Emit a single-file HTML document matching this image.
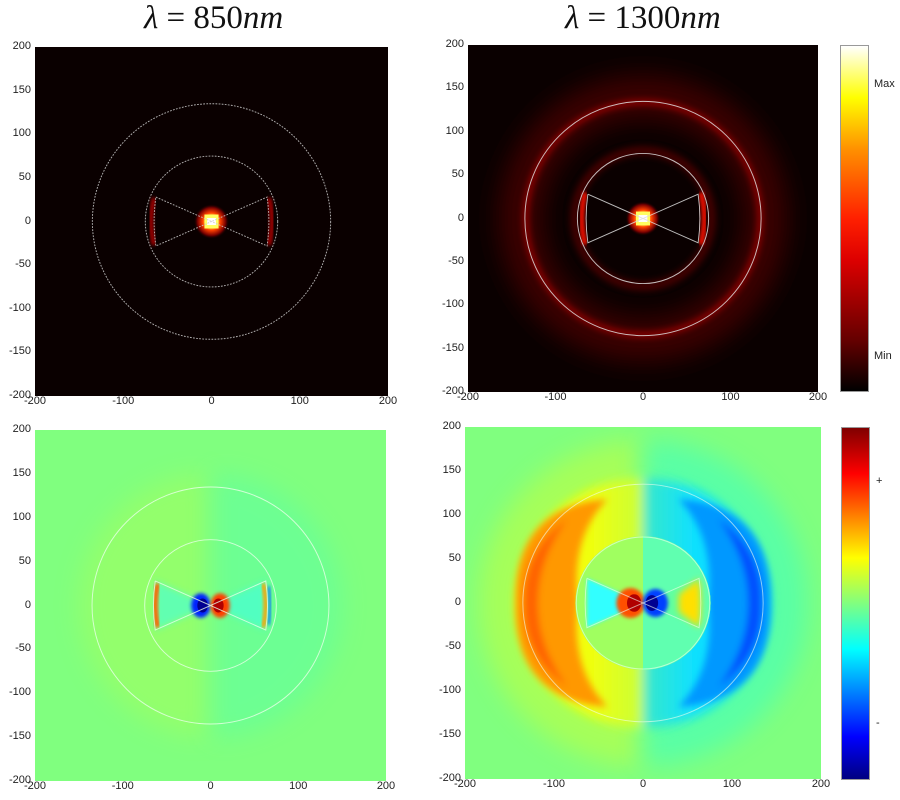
<!DOCTYPE html>
<html><head><meta charset="utf-8"><style>
body{margin:0;width:900px;height:800px;background:#fff;position:relative;overflow:hidden;font-family:"Liberation Sans",sans-serif}
.t{position:absolute;font-family:"Liberation Serif",serif;font-size:33px;color:#111;white-space:nowrap}
.t i{font-style:italic}
svg.p{position:absolute}
.l{position:absolute;font-size:11px;color:#222}
</style></head><body>
<div class="t" style="left:144px;top:0px"><i>λ</i> = 850<i>nm</i></div>
<div class="t" style="left:565px;top:0px"><i>λ</i> = 1300<i>nm</i></div>

<svg width="0" height="0" style="position:absolute"><defs>
<filter id="b2" x="-50%" y="-50%" width="200%" height="200%"><feGaussianBlur stdDeviation="2"/></filter>
<filter id="b4" x="-50%" y="-50%" width="200%" height="200%"><feGaussianBlur stdDeviation="4"/></filter>
<filter id="b6" x="-50%" y="-50%" width="200%" height="200%"><feGaussianBlur stdDeviation="6"/></filter>
<filter id="b14" x="-50%" y="-50%" width="200%" height="200%"><feGaussianBlur stdDeviation="14"/></filter>
<radialGradient id="hot"><stop offset="0" stop-color="#fff"/><stop offset=".25" stop-color="#ffff40"/><stop offset=".5" stop-color="#ff4000"/><stop offset=".8" stop-color="#700"/><stop offset="1" stop-color="#100" stop-opacity="0"/></radialGradient>
<linearGradient id="yl" x1="0" y1="0" x2="1" y2="0"><stop offset="0" stop-color="#ffff00"/><stop offset=".6" stop-color="#f0ff10"/><stop offset="1" stop-color="#c8ff38"/></linearGradient>
<linearGradient id="cl" x1="0" y1="0" x2="1" y2="0"><stop offset="0" stop-color="#38e8c8"/><stop offset=".4" stop-color="#10e0ff"/><stop offset="1" stop-color="#00d8ff"/></linearGradient>
</defs></svg>

<!-- top-left -->
<svg class="p" style="left:35px;top:47px" width="353" height="349" viewBox="-200 -200 400 400" preserveAspectRatio="none">
<rect x="-200" y="-200" width="400" height="400" fill="#0a0000"/>
<path d="M-65,-27 Q-72,0 -65,27" stroke="#a00" stroke-width="5" fill="none" filter="url(#b2)"/>
<path d="M65,-27 Q72,0 65,27" stroke="#a00" stroke-width="5" fill="none" filter="url(#b2)"/>
<circle r="20" fill="url(#hot)"/>
<rect x="-8" y="-8" width="16" height="16" fill="#ffff60"/>
<rect x="-5" y="-4" width="10" height="8" fill="#fff"/>
<g fill="none" stroke="#ccc" stroke-width="1.1" stroke-dasharray="2 1.5" opacity=".85">
<circle r="135"/><circle r="75"/>
<path d="M-63,-28 L0,0 L63,-28 Q67,0 63,28 L0,0 L-63,28 Q-67,0 -63,-28"/>
</g></svg>

<!-- top-right -->
<svg class="p" style="left:468px;top:45px" width="350" height="347" viewBox="-200 -200 400 400" preserveAspectRatio="none">
<rect x="-200" y="-200" width="400" height="400" fill="#0a0000"/>
<circle r="140" stroke="#3a0000" stroke-width="50" fill="none" filter="url(#b14)"/>
<circle r="134" stroke="#900" stroke-width="6" fill="none" filter="url(#b4)"/>
<circle r="78" stroke="#400" stroke-width="10" fill="none" filter="url(#b4)"/>
<path d="M-66,-30 Q-74,0 -66,30" stroke="#e10" stroke-width="6" fill="none" filter="url(#b2)"/>
<path d="M66,-30 Q74,0 66,30" stroke="#e10" stroke-width="6" fill="none" filter="url(#b2)"/>
<circle r="20" fill="url(#hot)"/>
<rect x="-8" y="-8" width="16" height="16" fill="#ffff60"/>
<rect x="-5" y="-4" width="10" height="8" fill="#fff"/>
<g fill="none" stroke="#ddd" stroke-width="1.1" opacity=".85">
<circle r="135"/><circle r="75"/>
<path d="M-63,-28 L0,0 L63,-28 Q67,0 63,28 L0,0 L-63,28 Q-67,0 -63,-28"/>
</g></svg>

<!-- bottom-left -->
<svg class="p" style="left:35px;top:430px" width="351" height="351" viewBox="-200 -200 400 400" preserveAspectRatio="none">
<rect x="-200" y="-200" width="400" height="400" fill="#80ff7f"/>
<path d="M0,-150 A150,150 0 0 0 0,150 Z" fill="#b8ff48" opacity=".35" filter="url(#b14)"/>
<path d="M0,-150 A150,150 0 0 1 0,150 Z" fill="#48ffb8" opacity=".35" filter="url(#b14)"/>
<path d="M-63,-28 L0,0 L-63,28 Z" fill="#40ffe0" opacity=".6" filter="url(#b4)"/>
<path d="M63,-28 L0,0 L63,28 Z" fill="#40ffe0" opacity=".6" filter="url(#b4)"/>
<path d="M-60,-25 Q-66,0 -60,25" stroke="#ff6000" stroke-width="6" fill="none" filter="url(#b2)"/>
<path d="M60,-25 Q66,0 60,25" stroke="#ffa000" stroke-width="5" fill="none" filter="url(#b2)"/>
<path d="M66,-22 Q70,0 66,22" stroke="#0060ff" stroke-width="3" fill="none" filter="url(#b2)"/>
<ellipse cx="-11" cy="0" rx="11" ry="14" fill="#0020ff" filter="url(#b2)"/>
<ellipse cx="-9" cy="0" rx="6" ry="8" fill="#000090"/>
<ellipse cx="11" cy="0" rx="11" ry="14" fill="#ff4000" filter="url(#b2)"/>
<ellipse cx="9" cy="0" rx="6" ry="8" fill="#b00000"/>
<g fill="none" stroke="#e8ffe8" stroke-width="1.1" opacity=".8">
<circle r="135"/><circle r="75"/>
<path d="M-63,-28 L0,0 L63,-28 Q67,0 63,28 L0,0 L-63,28 Q-67,0 -63,-28"/>
</g></svg>

<!-- bottom-right -->
<svg class="p" style="left:465px;top:427px" width="356" height="352" viewBox="-200 -200 400 400" preserveAspectRatio="none">
<rect x="-200" y="-200" width="400" height="400" fill="#80ff7f"/>
<path d="M0,-185 A185,185 0 0 0 0,185 Z" fill="#c0ff40" opacity=".6" filter="url(#b14)"/>
<path d="M0,-185 A185,185 0 0 1 0,185 Z" fill="#40ffc0" opacity=".6" filter="url(#b14)"/>
<g filter="url(#b6)">
<path d="M0,-142 A142,142 0 0 0 0,142 Z" fill="url(#yl)"/>
<path d="M0,-142 A142,142 0 0 1 0,142 Z" fill="url(#cl)"/>
</g>
<g filter="url(#b4)">
<path d="M-40,-118 Q-145,-110 -143,0 Q-145,110 -40,118 Q-82,75 -73,0 Q-82,-75 -40,-118 Z" fill="#ff9800"/>
<path d="M-85,-95 Q-135,-60 -133,0 Q-135,60 -85,95 Q-118,50 -118,0 Q-118,-50 -85,-95 Z" fill="#ff6400"/>
<path d="M40,-118 Q145,-110 143,0 Q145,110 40,118 Q82,75 73,0 Q82,-75 40,-118 Z" fill="#0098ff"/>
<path d="M85,-95 Q135,-60 133,0 Q135,60 85,95 Q118,50 118,0 Q118,-50 85,-95 Z" fill="#0050ff"/>
</g>
<circle r="76" fill="#a0ff60"/>
<path d="M0,-76 A76,76 0 0 1 0,76 Z" fill="#60ffb0"/>
<path d="M-63,-28 L0,0 L-63,28 Z" fill="#30ffff" filter="url(#b2)"/>
<path d="M63,-28 L0,0 L63,28 Z" fill="#60ffa0" filter="url(#b2)"/>
<path d="M63,-28 Q67,0 63,28 L40,10 L40,-10 Z" fill="#ffe000" filter="url(#b4)"/>
<ellipse cx="-14" cy="0" rx="16" ry="17" fill="#ff5000" filter="url(#b2)"/>
<ellipse cx="-10" cy="0" rx="8" ry="10" fill="#b00000"/>
<ellipse cx="14" cy="0" rx="14" ry="16" fill="#0040ff" filter="url(#b2)"/>
<ellipse cx="10" cy="0" rx="7" ry="9" fill="#000090"/>
<g fill="none" stroke="#f0fff0" stroke-width="1.1" opacity=".6">
<circle r="135"/><circle r="75"/>
<path d="M-63,-28 L0,0 L63,-28 Q67,0 63,28 L0,0 L-63,28 Q-67,0 -63,-28"/>
</g></svg>

<!-- colorbars -->
<div style="position:absolute;left:840px;top:45px;width:29px;height:347px;background:linear-gradient(to top,#000,#600 15%,#d00 38%,#ff2000 50%,#ff9000 70%,#ffff00 85%,#fff);border:1px solid #999;box-sizing:border-box"></div>
<div class="l" style="left:874px;top:78px">Max</div>
<div class="l" style="left:874px;top:350px">Min</div>
<div style="position:absolute;left:841px;top:427px;width:29px;height:353px;background:linear-gradient(to top,#000080,#0000ff 12%,#00ffff 37%,#80ff80 50%,#ffff00 63%,#ff0000 87%,#800000);border:1px solid #999;box-sizing:border-box"></div>
<div class="l" style="left:876px;top:475px">+</div>
<div class="l" style="left:876px;top:717px">-</div>

<div id="ticks"></div>
<script>
function ticks(x0,y0,w,h){
 var out='';var v=[200,150,100,50,0,-50,-100,-150,-200];
 for(var i=0;i<9;i++){var y=y0+h*i/8;out+='<div class="l" style="left:'+(x0-40)+'px;width:36px;text-align:right;top:'+(y-7)+'px">'+v[i]+'</div>';}
 var xv=[-200,-100,0,100,200];
 for(var i=0;i<5;i++){var x=x0+w*i/4;out+='<div class="l" style="left:'+(x-20)+'px;width:40px;text-align:center;top:'+(y0+h-1)+'px">'+xv[i]+'</div>';}
 return out;}
document.getElementById('ticks').innerHTML=ticks(35,47,353,349)+ticks(468,45,350,347)+ticks(35,430,351,351)+ticks(465,427,356,352);
</script>
</body></html>
